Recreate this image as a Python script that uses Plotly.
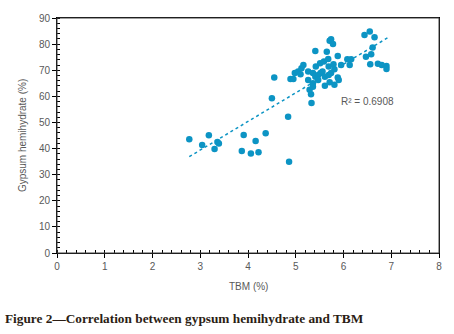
import plotly.graph_objects as go

tbm = [2.77, 3.04, 3.18, 3.30, 3.36, 3.39, 3.87, 3.91, 4.06, 4.16, 4.22, 4.37, 4.86, 4.84, 4.50, 4.55,
       4.89, 4.95, 4.98, 5.05, 5.10, 5.12, 5.16, 5.26, 5.26, 5.29, 5.32, 5.33, 5.36, 5.36, 5.36,
       5.41, 5.41, 5.42, 5.47, 5.47, 5.51, 5.52, 5.56, 5.59, 5.61, 5.61, 5.65, 5.68, 5.69, 5.69,
       5.71, 5.71, 5.74, 5.74, 5.78, 5.79, 5.81, 5.81, 5.88, 5.88, 5.90, 5.95, 6.08, 6.13, 6.16,
       6.44, 6.55, 6.65, 6.61, 6.58, 6.47, 6.56, 6.72, 6.80, 6.90, 6.90]
gypsum = [43.6, 41.4, 45.1, 39.8, 42.5, 41.9, 39.1, 45.2, 38.1, 42.9, 38.6, 45.9, 34.9, 52.2, 59.3, 67.2,
          66.6, 66.6, 68.9, 69.5, 68.5, 70.8, 72.0, 69.5, 66.3, 62.5, 60.8, 57.4, 68.9, 65.0, 63.7,
          77.4, 67.5, 71.4, 68.2, 66.3, 72.7, 68.9, 69.5, 73.3, 67.5, 64.1, 77.1, 74.3, 71.4, 68.2,
          65.4, 81.3, 81.9, 68.9, 80.0, 72.3, 70.4, 64.4, 75.4, 67.2, 66.3, 72.0, 74.2, 72.0, 74.2,
          83.5, 84.8, 82.6, 78.7, 76.1, 75.2, 72.3, 72.5, 72.0, 71.6, 70.5]

# Linear trendline
trend_slope = 10.96
trend_intercept = 6.54
trend_x = [2.77, 6.94]
trend_y = [trend_slope * v + trend_intercept for v in trend_x]
r2_label = "R² = 0.6908"

x_ticks = [0, 1, 2, 3, 4, 5, 6, 7, 8]
y_ticks = [0, 10, 20, 30, 40, 50, 60, 70, 80, 90]

color = "#0c94c4"
grey = "#595959"

fig = go.Figure()
fig.add_trace(go.Scatter(x=trend_x, y=trend_y, mode="lines",
                         line=dict(color=color, width=1.5, dash="3px,3px"),
                         hoverinfo="skip", showlegend=False))
fig.add_trace(go.Scatter(x=tbm, y=gypsum, mode="markers",
                         marker=dict(color=color, size=6.5, line=dict(width=0)),
                         showlegend=False))

fig.add_annotation(x=5.9, y=57.9, xanchor="left", yanchor="middle", text=r2_label,
                   showarrow=False, font=dict(family="Liberation Sans", size=10, color=grey))

fig.add_annotation(xref="paper", yref="paper", x=0.5, y=-0.11, yanchor="top",
                   text="TBM (%)", showarrow=False,
                   font=dict(family="Liberation Sans", size=10, color=grey))
fig.add_annotation(xref="paper", yref="paper", x=-0.09, y=0.5, xanchor="center", yanchor="middle",
                   text="Gypsum hemihydrate (%)", textangle=-90, showarrow=False,
                   font=dict(family="Liberation Sans", size=10, color=grey))
fig.add_annotation(xref="paper", yref="paper", x=-0.141, y=-0.238, xanchor="left", yanchor="top",
                   text="<b>Figure 2—Correlation between gypsum hemihydrate and TBM</b>",
                   showarrow=False,
                   font=dict(family="Liberation Serif", size=13.3, color="#2b1d14"))

axis_common = dict(showgrid=False, zeroline=False, showline=True, linecolor="#000000", linewidth=1,
                   ticks="outside", ticklen=4, tickcolor="#000000", tickwidth=1,
                   tickfont=dict(family="Liberation Sans", size=10, color=grey))

fig.update_xaxes(range=[0, 8], tickvals=x_ticks, mirror=True,
                 minor=dict(dtick=0.2, ticks="inside", ticklen=3, tickcolor="#000000"),
                 **axis_common)
fig.update_yaxes(range=[0, 90], tickvals=y_ticks, mirror=True,
                 minor=dict(dtick=2, ticks="inside", ticklen=3, tickcolor="#000000"),
                 **axis_common)

# frame (top and right border)
fig.add_shape(type="rect", xref="paper", yref="paper", x0=0, y0=0, x1=1, y1=1,
              line=dict(color="#404040", width=1), layer="above")

fig.update_layout(width=454, height=334, margin=dict(l=57, r=12, t=18, b=81),
                  plot_bgcolor="white", paper_bgcolor="white")

fig.write_html("out.html", config={"displayModeBar": False},
               post_script="document.body.style.margin='0';document.body.style.overflow='hidden';")
